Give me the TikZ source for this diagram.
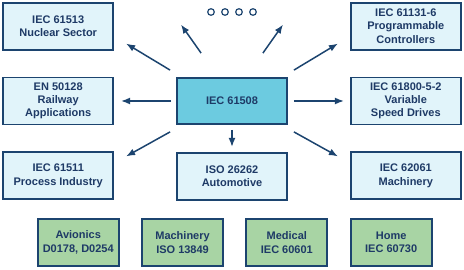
\documentclass[tikz,border=0pt]{standalone}
\usepackage{fontspec}
\setmainfont{Liberation Sans}
\usetikzlibrary{arrows.meta,positioning}
\definecolor{Marino}{HTML}{1C446F}
\definecolor{TextoAzul}{HTML}{1E3A66}
\definecolor{CeldaClara}{HTML}{E1F4FA}
\definecolor{CeldaCentro}{HTML}{6CCBE0}
\definecolor{CeldaVerde}{HTML}{A8D4A4}
\tikzset{
  norma/.style   = {draw=Marino, line width=1.8pt, fill=CeldaClara, align=center,
                    font=\fontsize{11}{13.3}\selectfont\bfseries, text=TextoAzul,
                    minimum width=110pt, minimum height=47pt, inner sep=2pt},
  centro/.style  = {norma, fill=CeldaCentro, minimum height=46pt},
  verde/.style   = {norma, fill=CeldaVerde, minimum width=81pt},
  punto/.style   = {draw=Marino, line width=1.2pt, circle, minimum size=6.6pt, inner sep=0pt},
  flecha/.style  = {-{Latex[length=9pt,width=7pt]}, line width=1.5pt, draw=Marino},
}
\begin{document}
\begin{tikzpicture}[x=1pt, y=1pt, node distance=26pt and 62pt]
  \useasboundingbox (0,0) rectangle (464,270);
  % central standard and derived sector standards
  \node[centro] (c) at (232,169) {IEC 61508};
  \node[norma, left=of c] (rail) {EN 50128\\Railway\\Applications};
  \node[norma, above=of rail] (nuc) {IEC 61513\\Nuclear Sector};
  \node[norma, below=of rail] (proc) {IEC 61511\\Process Industry};
  \node[norma, right=of c] (vsd) {IEC 61800-5-2\\Variable\\Speed Drives};
  \node[norma, above=of vsd] (plc) {IEC 61131-6\\Programmable\\Controllers};
  \node[norma, below=of vsd] (mach) {IEC 62061\\Machinery};
  \node[norma, below=27pt of c] (iso) {ISO 26262\\Automotive};
  % more standards
  \foreach \i/\x in {1/211,2/225,3/239,4/253}
    \node[punto] (p\i) at (\x,258) {};
  % other domains
  \node[verde] (avi) at (78.25,27.5) {Avionics\\D0178, D0254};
  \node[verde, right=21.5pt of avi] (mis) {Machinery\\ISO 13849};
  \node[verde, right=21.5pt of mis] (med) {Medical\\IEC 60601};
  \node[verde, right=21.5pt of med] (hom) {Home\\IEC 60730};
  % arrows
  \draw[flecha] ([shift={(-6,7)}]c.north west) -- ([shift={(12,7)}]nuc.south east);
  \draw[flecha] ([shift={(25,24)}]c.north west) -- ([shift={(-30,-8.7)}]p1.south);
  \draw[flecha] ([shift={(-25,24)}]c.north east) -- ([shift={(30,-8.7)}]p4.south);
  \draw[flecha] ([shift={(6,7)}]c.north east) -- ([shift={(-12,7)}]plc.south west);
  \draw[flecha, shorten <=5pt, shorten >=7pt] (c.west) -- (rail.east);
  \draw[flecha, shorten <=6pt, shorten >=6pt] (c.east) -- (vsd.west);
  \draw[flecha] ([shift={(-6,-7)}]c.south west) -- ([shift={(12,-5)}]proc.north east);
  \draw[flecha, shorten <=5pt, shorten >=5pt] (c.south) -- (iso.north);
  \draw[flecha] ([shift={(6,-7)}]c.south east) -- ([shift={(-12,-5)}]mach.north west);
\end{tikzpicture}
\end{document}
